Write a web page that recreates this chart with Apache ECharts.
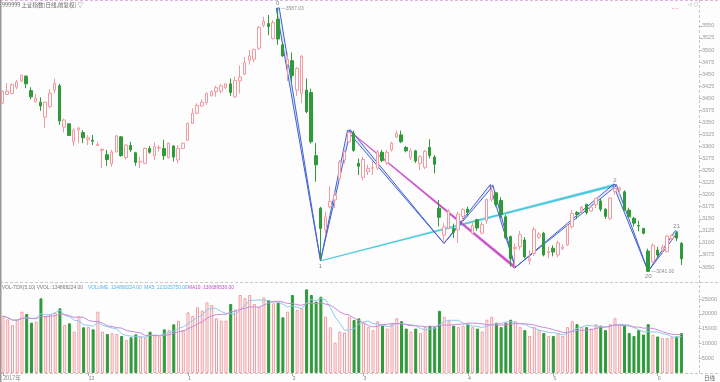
<!DOCTYPE html>
<html><head><meta charset="utf-8">
<script src="https://cdn.jsdelivr.net/npm/echarts@6/dist/echarts.min.js"></script>
<style>html,body{margin:0;padding:0;background:#fdfdfd}#c{width:720px;height:382px}</style>
</head><body><div id="c"></div><script>
// ---------- data ----------
const open = [3390,3408,3410,3423,3436,3446,3416,3393,3392,3361,3383,3417,3426,3340,3347,3310,3334,3329,3314,3313,3302,3292,3283,3264,3289,3320,3277,3302,3287,3268,3265,3296,3281,3297,3296,3277,3301,3272,3296,3313,3348,3369,3384,3391,3405,3414,3415,3422,3430,3403,
3436,3450,3479,3481,3504,3552,3555,3524,3564,3511,3470,3478,3417,3410,3417,3412,3281,3172,3127,3175,3189,3234,3272,3310,3327,3265,3236,3248,3255,3255,3288,3266,3293,3320,3324,3298,3277,3291,3265,3257,3298,3278,3172,3116,3131,3130,3127,3155,3170,3120,3148,
3120,3146,3190,3204,3188,3154,3113,3088,3092,3106,3063,3078,3112,3120,3080,3089,3075,3089,3096,3134,3163,3166,3180,3166,3179,3187,3170,3151,3207,3210,3206,3168,3151,3136,3130,3083,3061,3085,3085,3082,3109,3121,3099];
const close = [3414,3415,3428,3434,3448,3430,3403,3400,3384,3392,3410,3431,3353,3355,3323,3334,3338,3318,3318,3311,3304,3294,3273,3289,3322,3281,3303,3293,3267,3269,3296,3288,3300,3298,3281,3307,3278,3296,3307,3348,3369,3385,3392,3410,3414,3422,3426,3430,3412,3437,
3444,3474,3488,3501,3547,3560,3549,3557,3523,3488,3481,3447,3462,3487,3372,3310,3262,3130,3154,3186,3199,3268,3289,3329,3292,3259,3273,3254,3256,3289,3271,3288,3307,3327,3310,3291,3291,3270,3279,3290,3281,3263,3153,3133,3166,3122,3160,3169,3163,3136,3131,
3138,3190,3208,3180,3159,3111,3067,3091,3117,3071,3068,3128,3118,3075,3082,3081,3100,3091,3136,3161,3159,3174,3163,3174,3192,3170,3155,3193,3213,3214,3168,3154,3141,3135,3120,3041,3095,3075,3091,3114,3115,3110,3067];
const low = [3388,3407,3408,3419,3434,3421,3398,3391,3374,3338,3379,3410,3345,3329,3322,3301,3307,3307,3303,3303,3301,3255,3260,3258,3287,3279,3273,3289,3260,3255,3264,3285,3272,3289,3272,3275,3269,3265,3295,3312,3347,3367,3383,3386,3405,3403,3410,3419,3405,3402,
3410,3448,3470,3475,3500,3547,3531,3522,3511,3486,3436,3430,3405,3390,3369,3306,3227,3063,3116,3172,3172,3230,3265,3307,3289,3241,3230,3241,3241,3251,3268,3262,3290,3317,3307,3288,3272,3266,3251,3253,3275,3244,3134,3099,3128,3110,3100,3140,3155,3118,3125,
3118,3140,3185,3175,3152,3108,3051,3049,3085,3068,3055,3073,3108,3072,3068,3072,3070,3085,3093,3130,3150,3162,3159,3165,3172,3165,3150,3147,3200,3202,3167,3153,3134,3124,3118,3041,3058,3070,3077,3080,3105,3104,3054];
const high = [3417,3432,3431,3438,3449,3448,3423,3409,3402,3393,3419,3441,3430,3358,3348,3338,3341,3334,3324,3324,3310,3296,3293,3293,3324,3322,3305,3310,3289,3279,3298,3301,3309,3303,3314,3308,3303,3303,3308,3350,3379,3390,3398,3412,3416,3426,3430,3431,3441,3445,
3468,3486,3500,3503,3550,3569,3573,3562,3587.03,3517,3495,3495,3465,3490,3441,3420,3307,3175,3165,3217,3206,3272,3293,3333,3333,3275,3279,3262,3269,3293,3293,3293,3310,3333,3333,3301,3296,3293,3282,3293,3315,3282,3189,3141,3170,3140,3165,3172,3175,3145,3150,
3144,3192,3220,3206,3195,3158,3115,3099,3125,3112,3085,3133,3122,3123,3092,3095,3105,3097,3141,3168,3166,3177,3181,3177,3194,3193,3172,3195,3220,3216,3209,3173,3154,3146,3131,3088,3099,3092,3096,3116,3118,3124,3102];
const volume = [19255,18130,16215,17903,20720,19930,17000,17340,25220,19030,19930,20380,21850,16215,16780,13960,19030,15430,15650,14750,20720,13960,13170,13400,13170,12500,11150,12050,13060,12270,12050,13960,12840,12270,14750,14530,16440,17680,14530,20490,19255,22180,21050,23870,22970,18470,17680,17680,23310,21510,
26350,25220,26350,23310,22410,25560,24660,23530,23760,18800,20720,26350,21280,21850,28260,26350,24100,25790,19030,15430,10250,13960,13630,19030,17903,18470,
17000,15500,14500,17500,16000,15000,16500,18500,17500,15000,14000,15000,13500,15500,16000,15500,21000,19000,17500,16000,15500,16000,16500,15500,15000,
14000,18000,19000,17000,15500,17000,18000,17500,15500,14500,12500,15500,14500,13500,12500,12500,13500,12500,15500,17500,16500,15500,15500,15000,16500,16000,14500,16500,18500,16500,16000,13500,12500,
14500,13000,16500,12800,12337,11800,11800,12100,12366,13487];
const extraSlots = 3;
const tickIndex = [0,18,39,61,76,98,116,138];
const tickText = ['2017年','12','1','2','3','4','5','6'];
const zigIdx = [58,67,73,93,103,108,129,136,142];
const zigVal = [3587.03,3062.74,3333,3099,3219,3049,3220,3041,3124];
const magentaIdx = [73,108], magentaVal = [3333,3049];
const cyanIdx = [67,129], cyanVal = [3062.74,3220];
const pivotIdx = [58,67,129,136,142];
const pivotVal = [3587.03,3062.74,3220,3041,3124];
const pivotText = ['0','1','2','20','21'];
const pivotPos = ['top','bottom','top','bottom','top'];
const priceTagIdx = [58,136], priceTagVal = [3587.03,3041.00], priceTagText = ['3587.03','3041.00'];

// ---------- build ----------
const N = open.length;
const categories = [];
for (let i = 0; i < N + extraSlots; i++) categories.push(String(i));
const candle = open.map((o, i) => [o, close[i], low[i], high[i]]);
const RED = '#f29aa0', GREEN = '#2f9a3a';
const volData = volume.map((v, i) => {
  const up = close[i] >= open[i];
  return {value: v, itemStyle: up ? {color: '#fdfdfd', borderColor: RED, borderWidth: 1} : {color: GREEN, borderColor: GREEN, borderWidth: 1}};
});
function ma(n) {
  return volume.map((v, i) => {
    const s = volume.slice(Math.max(0, i - n + 1), i + 1);
    return +(s.reduce((a, b) => a + b, 0) / s.length).toFixed(1);
  });
}
const legs = [];
for (let k = 0; k + 1 < zigIdx.length; k++) legs.push([zigIdx[k], zigVal[k], zigIdx[k + 1], zigVal[k + 1]]);
function wedge(wideAtHigh, wWide, wTip, stroke, fill, lw) {
  return function (params, api) {
    const a = api.coord([api.value(0), api.value(1)]);
    const b = api.coord([api.value(2), api.value(3)]);
    let wideP = a, tipP = b;
    const aHigher = a[1] < b[1];
    if ((wideAtHigh && !aHigher) || (!wideAtHigh && aHigher)) { wideP = b; tipP = a; }
    const dx = tipP[0] - wideP[0], dy = tipP[1] - wideP[1];
    const L = Math.sqrt(dx * dx + dy * dy) || 1;
    const nx = -dy / L, ny = dx / L;
    const pts = [
      [wideP[0] + nx * wWide / 2, wideP[1] + ny * wWide / 2],
      [tipP[0] + nx * wTip / 2, tipP[1] + ny * wTip / 2],
      [tipP[0] - nx * wTip / 2, tipP[1] - ny * wTip / 2],
      [wideP[0] - nx * wWide / 2, wideP[1] - ny * wWide / 2]
    ];
    return {type: 'polygon', shape: {points: pts}, style: {fill: fill, stroke: stroke, lineWidth: lw}};
  };
}
const isTick = (idx) => tickIndex.indexOf(idx) >= 0;
const W = 698;
const chart = echarts.init(document.getElementById('c'), null, {renderer: 'canvas'});
const labelFont = {fontSize: 5.5, color: '#9a9a9a', fontFamily: 'Liberation Sans', formatter: (v) => String(v)};
chart.setOption({
  animation: false,
  backgroundColor: '#fdfdfd',
  grid: [
    {left: 0, width: W, top: 1.9, height: 289.2},
    {left: 0, width: W, top: 284.2, height: 88.8},
    {left: 0, width: 699, top: 25.9, height: 241.1},
    {left: 0, width: 699, top: 299, height: 59.2}
  ],
  xAxis: [
    {gridIndex: 0, type: 'category', data: categories, show: false, boundaryGap: true},
    {gridIndex: 1, type: 'category', data: categories, boundaryGap: true,
      axisLine: {show: false},
      axisTick: {show: true, interval: (i) => isTick(i), alignWithLabel: true, length: 3, lineStyle: {color: '#aaa'}},
      axisLabel: {show: true, interval: (i) => isTick(i), formatter: (v, i) => tickText[tickIndex.indexOf(i)] || '', align: 'left', margin: 2, fontSize: 5.5, color: '#888', fontFamily: 'Noto Sans CJK SC'}},
    {gridIndex: 2, type: 'category', data: categories, show: false},
    {gridIndex: 3, type: 'category', data: categories, show: false}
  ],
  yAxis: [
    {gridIndex: 0, min: 3000, max: 3600, show: false},
    {gridIndex: 1, min: 0, max: 30000, show: false},
    {gridIndex: 2, position: 'right', min: 3050, max: 3550, interval: 25, axisLine: {show: false}, splitLine: {show: false},
      axisTick: {show: true, length: 3, lineStyle: {color: '#bbb'}}, axisLabel: Object.assign({margin: 3}, labelFont)},
    {gridIndex: 3, position: 'right', min: 5000, max: 25000, interval: 5000, axisLine: {show: false}, splitLine: {show: false},
      axisTick: {show: true, length: 3, lineStyle: {color: '#bbb'}}, axisLabel: Object.assign({margin: 3}, labelFont)}
  ],
  series: [
    {type: 'candlestick', xAxisIndex: 0, yAxisIndex: 0, data: candle, barWidth: 3,
      itemStyle: {color: '#fdfdfd', color0: GREEN, borderColor: RED, borderColor0: GREEN, borderWidth: 1}},
    {type: 'bar', xAxisIndex: 1, yAxisIndex: 1, data: volData, barWidth: 3},
    {type: 'line', xAxisIndex: 1, yAxisIndex: 1, data: ma(5), symbol: 'none', lineStyle: {color: '#8ccbee', width: 1}},
    {type: 'line', xAxisIndex: 1, yAxisIndex: 1, data: ma(10), symbol: 'none', lineStyle: {color: '#c98bd8', width: 1}},
    {type: 'custom', xAxisIndex: 0, yAxisIndex: 0, clip: false, data: [[cyanIdx[0], cyanVal[0], cyanIdx[1], cyanVal[1]]],
      renderItem: wedge(true, 2.4, 0.6, '#4cc8dc', '#4cc8dc', 0.4)},
    {type: 'custom', xAxisIndex: 0, yAxisIndex: 0, clip: false, data: [[magentaIdx[0], magentaVal[0], magentaIdx[1], magentaVal[1]]],
      renderItem: wedge(false, 2.4, 0.6, '#cc50cc', '#cc50cc', 0.4)},
    {type: 'custom', xAxisIndex: 0, yAxisIndex: 0, clip: false, data: legs,
      renderItem: wedge(true, 3, 0, '#4262d6', 'rgba(66,98,214,0.12)', 1)},
    {type: 'scatter', xAxisIndex: 0, yAxisIndex: 0, symbolSize: 0,
      data: pivotIdx.map((x, i) => ({value: [x, pivotVal[i]], label: {show: true, position: pivotPos[i], distance: 2, formatter: pivotText[i], fontSize: 6, color: '#666', fontFamily: 'Liberation Sans'}}))},
    {type: 'scatter', xAxisIndex: 0, yAxisIndex: 0, symbolSize: 0,
      data: priceTagIdx.map((x, i) => ({value: [x, priceTagVal[i]], label: {show: true, position: 'right', distance: 3, formatter: '—' + priceTagText[i], fontSize: 5, color: '#777', fontFamily: 'Liberation Sans'}}))}
  ],
  graphic: [
    {type: 'line', shape: {x1: 0, y1: 0.5, x2: 720, y2: 0.5}, style: {stroke: '#d8b8d8', lineDash: [3, 2], lineWidth: 1}},
    {type: 'line', shape: {x1: 0, y1: 282.5, x2: 720, y2: 282.5}, style: {stroke: '#c8c8c8', lineDash: [3, 2], lineWidth: 1}},
    {type: 'line', shape: {x1: 0, y1: 373.5, x2: 720, y2: 373.5}, style: {stroke: '#c8c8c8', lineDash: [3, 2], lineWidth: 1}},
    {type: 'line', shape: {x1: 699.5, y1: 0, x2: 699.5, y2: 374}, style: {stroke: '#c8c8c8', lineDash: [3, 2], lineWidth: 1}},
    {type: 'line', shape: {x1: 0.5, y1: 0, x2: 0.5, y2: 382}, style: {stroke: '#999', lineWidth: 2}},
    {type: 'text', left: 2, top: 2, style: {text: '999999 上证指数(日线,前复权) ▽', fontSize: 5.5, fill: '#666', fontFamily: 'Noto Sans CJK SC'}},
    {type: 'text', left: 672, top: 7, style: {text: '• • •', fontSize: 4, fill: '#e080c8', fontFamily: 'Liberation Sans'}},
    {type: 'text', left: 688, top: 2, style: {text: '◁ ▢', fontSize: 5, fill: '#999', fontFamily: 'DejaVu Sans'}},
    {type: 'text', left: 2, top: 285, style: {text: 'VOL-TDX(5,10) VVOL: 134868224.00', fontSize: 4.8, fill: '#777', fontFamily: 'Liberation Sans'}},
    {type: 'text', left: 88, top: 285, style: {text: 'VOLUME: 134868224.00  MA5: 123105750.00', fontSize: 4.8, fill: '#5ab4e6', fontFamily: 'Liberation Sans'}},
    {type: 'text', left: 188, top: 285, style: {text: 'MA10: 130689536.00', fontSize: 4.8, fill: '#c050c8', fontFamily: 'Liberation Sans'}},
    {type: 'text', left: 704, top: 375, style: {text: '日线', fontSize: 5.5, fill: '#666', fontFamily: 'Noto Sans CJK SC'}}
  ]
});
</script></body></html>
